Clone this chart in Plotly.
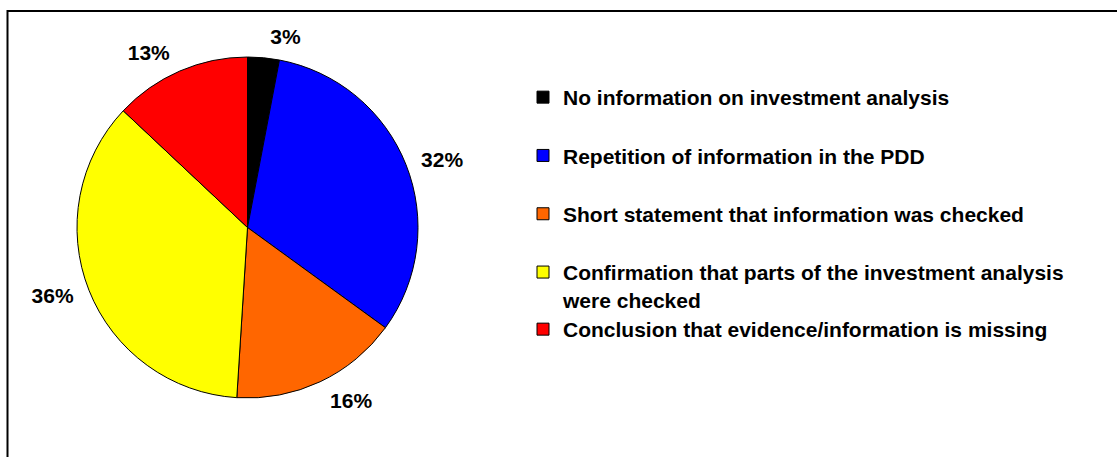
import plotly.graph_objects as go

categories = [
    "No information on investment analysis",
    "Repetition of information in the PDD",
    "Short statement that information was checked",
    "Confirmation that parts of the investment analysis<br>were checked",
    "Conclusion that evidence/information is missing",
]
values = [3, 32, 16, 36, 13]
colors = ["#000000", "#0000FF", "#FF6600", "#FFFF00", "#FF0000"]

W, H = 1117, 457
FONT = "Liberation Sans, Arial, sans-serif"
FS = 21

# pie extent (pixels)
PX0, PX1, PY0, PY1 = 77, 418, 57, 398
LBL = 10  # extra radius used for placing the outside percentage labels

fig = go.Figure()

fig.add_trace(go.Pie(
    labels=categories,
    values=values,
    marker=dict(colors=colors, line=dict(color="#000000", width=1)),
    sort=False,
    direction="clockwise",
    rotation=0,
    textinfo="none",
    showlegend=False,
    hoverinfo="label+percent",
    domain=dict(x=[PX0 / W, PX1 / W], y=[1 - PY1 / H, 1 - PY0 / H]),
))

# transparent companion pie that only carries the percentage labels
fig.add_trace(go.Pie(
    labels=categories,
    values=values,
    marker=dict(colors=["rgba(0,0,0,0)"] * len(values), line=dict(width=0)),
    sort=False,
    direction="clockwise",
    rotation=0,
    textposition="outside",
    texttemplate="%{percent:.0%}",
    textfont=dict(family=FONT, size=FS, color="#000000", weight=700),
    showlegend=False,
    hoverinfo="skip",
    domain=dict(x=[(PX0 - LBL) / W, (PX1 + LBL) / W],
                y=[1 - (PY1 + LBL) / H, 1 - (PY0 - LBL) / H]),
))

for i, (cat, col) in enumerate(zip(categories, colors)):
    fig.add_trace(go.Scatter(
        x=[None], y=[None], mode="markers", name=cat,
        marker=dict(symbol="square", size=12, color=col,
                    line=dict(color="#000000", width=1)),
        legendgroup=f"g{i}",
        legend="legend2" if i == 4 else "legend",
        showlegend=True,
    ))

legend_common = dict(
    font=dict(family=FONT, size=FS, color="#000000", weight=700),
    bgcolor="rgba(0,0,0,0)",
    borderwidth=0,
    xanchor="left",
    yanchor="top",
    valign="top",
    itemclick=False,
    itemdoubleclick=False,
)

fig.update_layout(
    width=W, height=H,
    margin=dict(l=0, r=0, t=0, b=0),
    paper_bgcolor="#FFFFFF",
    plot_bgcolor="#FFFFFF",
    xaxis=dict(visible=False),
    yaxis=dict(visible=False),
    legend=dict(x=523 / W, y=1 - 77 / H, tracegroupgap=28, **legend_common),
    legend2=dict(x=523 / W, y=1 - 309 / H, **legend_common),
    shapes=[dict(
        type="rect", xref="paper", yref="paper",
        x0=7.5 / W, x1=1.05, y0=-0.05, y1=1 - 11 / H,
        line=dict(color="#000000", width=2), fillcolor="rgba(0,0,0,0)",
    )],
)

fig.write_html("out.html", config={"displayModeBar": False},
               post_script="document.body.style.margin='0';")
